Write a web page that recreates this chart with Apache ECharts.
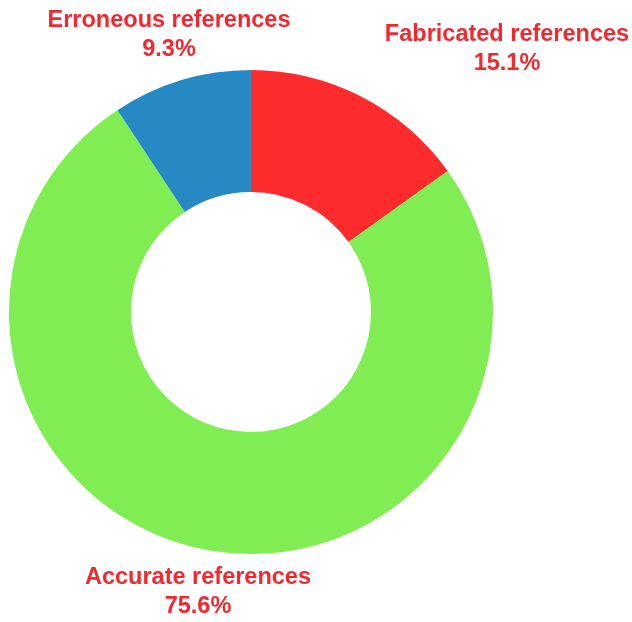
<!DOCTYPE html>
<html>
<head>
<meta charset="utf-8">
<script src="https://cdn.jsdelivr.net/npm/echarts@6/dist/echarts.min.js"></script>
<style>html,body{margin:0;padding:0;background:#fff}#c{width:632px;height:622px}</style>
</head>
<body>
<div id="c"></div>
<script>
const categories = ['Fabricated references', 'Accurate references', 'Erroneous references'];
const values = [15.1, 75.6, 9.3];
const colors = ['#FE2B2D', '#80ED52', '#2789C4'];
const labelPos = [[507, 49], [198, 592], [169, 35]];

const chart = echarts.init(document.getElementById('c'), null, {renderer: 'canvas'});
chart.setOption({
  animation: false,
  series: [{
    type: 'pie',
    center: [251, 312],
    radius: [120, 242],
    startAngle: 90,
    clockwise: true,
    avoidLabelOverlap: false,
    data: categories.map((n, i) => ({name: n, value: values[i], itemStyle: {color: colors[i]}})),
    label: {
      show: true,
      position: 'outside',
      formatter: p => p.name + '\n' + p.value.toFixed(1) + '%',
      color: '#F2282E',
      fontFamily: 'Liberation Sans, Arial, sans-serif',
      fontWeight: 'bold',
      fontSize: 23.5,
      lineHeight: 29.5,
      align: 'center'
    },
    labelLine: {show: false},
    labelLayout: p => ({
      x: labelPos[p.dataIndex][0],
      y: labelPos[p.dataIndex][1],
      align: 'center',
      verticalAlign: 'middle'
    }),
    emphasis: {disabled: true}
  }]
});
</script>
</body>
</html>
